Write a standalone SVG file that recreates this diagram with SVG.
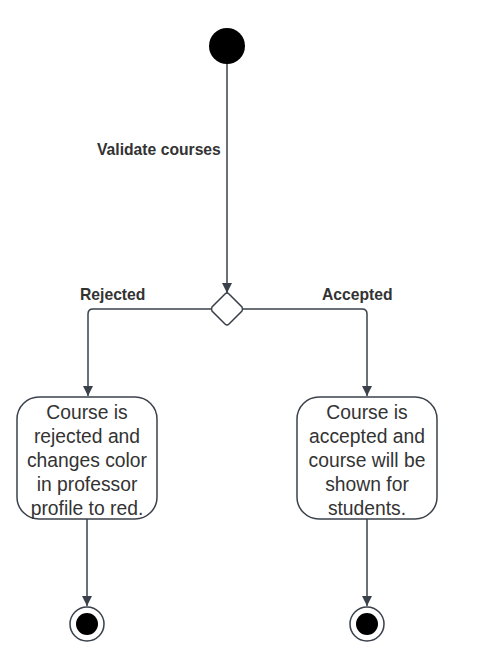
<svg xmlns="http://www.w3.org/2000/svg" width="494" height="652" viewBox="0 0 494 652">
<style>
.edge{fill:none;stroke:#3a414a;stroke-width:1.5}
.node{fill:#fff;stroke:#3a414a;stroke-width:1.5}
.lbl{font-family:"Liberation Sans",Arial,sans-serif;font-weight:bold;font-size:15.7px;fill:#333}
.txt{font-family:"Liberation Sans",Arial,sans-serif;font-size:19.3px;fill:#333;text-anchor:middle}
</style>
<defs>
<marker id="arr" viewBox="0 0 10 10" refX="10" refY="5" markerWidth="10" markerHeight="10" markerUnits="userSpaceOnUse" orient="auto">
<path d="M0,0 L10,5 L0,10 z" fill="#3a414a"/>
</marker>
</defs>
<rect width="494" height="652" fill="#fff"/>
<g id="connectors">
<path class="edge" d="M227,63 V293" marker-end="url(#arr)"/>
<path class="edge" d="M211,309 H93 Q88,309 88,314 V396" marker-end="url(#arr)"/>
<path class="edge" d="M243,309 H362 Q367,309 367,314 V396" marker-end="url(#arr)"/>
<path class="edge" d="M87,519 V606" marker-end="url(#arr)"/>
<path class="edge" d="M367,519 V606" marker-end="url(#arr)"/>
<text class="lbl" x="97" y="155">Validate courses</text>
<text class="lbl" x="80" y="300">Rejected</text>
<text class="lbl" x="322" y="300">Accepted</text>
</g>
<g id="start"><circle cx="227" cy="46" r="18" fill="#000"/></g>
<g id="decision"><path class="node" d="M227,293 Q228,293 229,294 L242,307 Q243,309 242,311 L229,324 Q227,326 225,324 L212,311 Q211,309 212,307 L225,294 Q226,293 227,293 z"/></g>
<g id="rejected">
<rect class="node" x="17" y="397" width="140" height="122" rx="22"/>
<text class="txt" x="87" y="419">Course is</text>
<text class="txt" x="87" y="443">rejected and</text>
<text class="txt" x="87" y="467">changes color</text>
<text class="txt" x="87" y="491">in professor</text>
<text class="txt" x="87" y="515">profile to red.</text>
</g>
<g id="accepted">
<rect class="node" x="297" y="397" width="140" height="122" rx="22"/>
<text class="txt" x="367" y="419">Course is</text>
<text class="txt" x="367" y="443">accepted and</text>
<text class="txt" x="367" y="467">course will be</text>
<text class="txt" x="367" y="491">shown for</text>
<text class="txt" x="367" y="515">students.</text>
</g>
<g id="end1"><circle class="node" cx="87" cy="624" r="17"/><circle cx="87" cy="624" r="11" fill="#000"/></g>
<g id="end2"><circle class="node" cx="367" cy="624" r="17"/><circle cx="367" cy="624" r="11" fill="#000"/></g>
</svg>
